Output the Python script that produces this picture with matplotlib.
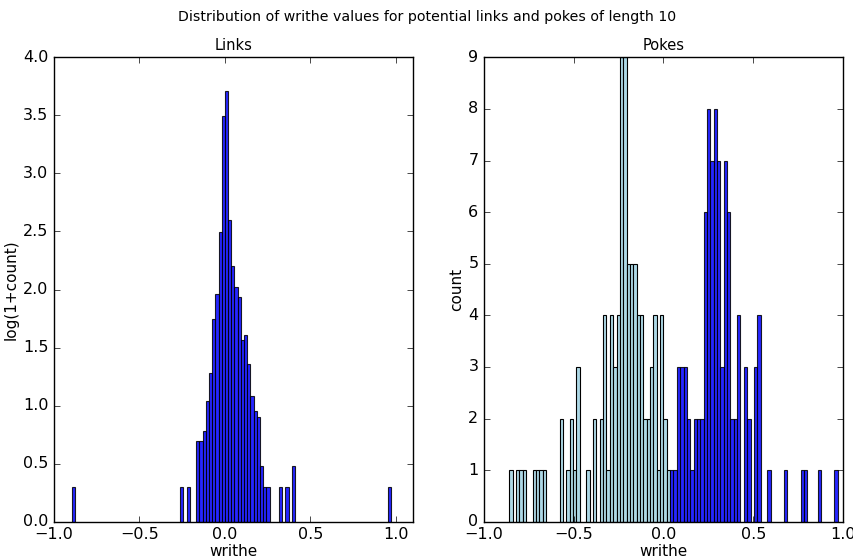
import numpy as np
import matplotlib
matplotlib.use("Agg")
import matplotlib.pyplot as plt

# shared histogram bins (100 bins between min and max writhe)
binLow = -0.896
binHigh = 0.970
nBins = 100

# Links: bin index -> count (plotted as log10(1+count))
linkBins = [0, 34, 36, 39, 40, 41, 42, 43, 44, 45, 46, 47, 48, 49, 50,
            51, 52, 53, 54, 55, 56, 57, 58, 59, 60, 61, 65, 67, 69, 99]
linkCounts = [1, 1, 1, 4, 4, 5, 10, 18, 55, 91, 315, 3100, 5100, 393, 160,
              104, 85, 36, 40, 22, 11, 8, 7, 2, 1, 1, 1, 1, 2, 1]

# Pokes, negative side (light blue)
pokeNegBins = [2, 4, 5, 6, 9, 10, 11, 12, 17, 19, 20, 21, 22, 25, 27, 29,
               30, 31, 32, 33, 34, 35, 36, 37, 38, 39, 40, 41, 42, 43, 44,
               45, 46, 47, 48, 49]
pokeNegCounts = [1, 1, 1, 1, 1, 1, 1, 1, 2, 1, 2, 1, 3, 1, 2, 2,
                 4, 1, 4, 3, 4, 9, 9, 5, 5, 5, 4, 4, 2, 2, 3,
                 4, 1, 4, 2, 1]

# Pokes, positive side (blue)
pokePosBins = [50, 51, 52, 53, 54, 55, 56, 57, 58, 59, 60, 61, 62, 63, 64,
               65, 66, 67, 68, 69, 70, 72, 73, 75, 76, 79, 84, 89, 90, 94, 99]
pokePosCounts = [1, 1, 3, 3, 3, 2, 1, 2, 2, 2, 6, 8, 7, 8, 7,
                 3, 7, 6, 2, 2, 4, 3, 2, 3, 4, 1, 1, 1, 1, 1, 1]

edges = np.linspace(binLow, binHigh, nBins + 1)
binWidth = edges[1] - edges[0]

plt.style.use("classic")
plt.rcParams["figure.facecolor"] = "white"
plt.rcParams["savefig.facecolor"] = "white"
plt.rcParams["font.size"] = 11
plt.rcParams["xtick.labelsize"] = 11.5
plt.rcParams["ytick.labelsize"] = 11.5

fig = plt.figure(figsize=(8.54, 5.59), dpi=100)
axLinks = fig.add_axes([0.0632, 0.0665, 0.4204, 0.8310])
axPokes = fig.add_axes([0.5667, 0.0665, 0.4204, 0.8310])

# Links panel
linkHeights = np.log10(1 + np.array(linkCounts))
axLinks.bar(edges[linkBins], linkHeights, width=binWidth, align="edge",
            color="blue", edgecolor="black", linewidth=0.8, alpha=0.85)
axLinks.set_xlim(-1.0, 1.1)
axLinks.set_ylim(0, 4.0)
axLinks.set_xticks([-1.0, -0.5, 0.0, 0.5, 1.0])
axLinks.set_title("Links", fontsize=10.5)
axLinks.set_xlabel("writhe", labelpad=1)
axLinks.set_ylabel("log(1+count)", labelpad=3)

# Pokes panel
axPokes.bar(edges[pokeNegBins], pokeNegCounts, width=binWidth, align="edge",
            color="lightblue", edgecolor="black", linewidth=0.8)
axPokes.bar(edges[pokePosBins], pokePosCounts, width=binWidth, align="edge",
            color="blue", edgecolor="black", linewidth=0.8, alpha=0.85)
axPokes.set_xlim(-1.0, 1.0)
axPokes.set_ylim(0, 9)
axPokes.set_xticks([-1.0, -0.5, 0.0, 0.5, 1.0])
axPokes.set_yticks(range(10))
axPokes.set_title("Pokes", fontsize=10.5)
axPokes.set_xlabel("writhe", labelpad=1)
axPokes.set_ylabel("count", labelpad=3)

fig.suptitle("Distribution of writhe values for potential links and pokes of length 10",
             fontsize=10.2, y=0.983)

fig.savefig("out.png", dpi=100)
